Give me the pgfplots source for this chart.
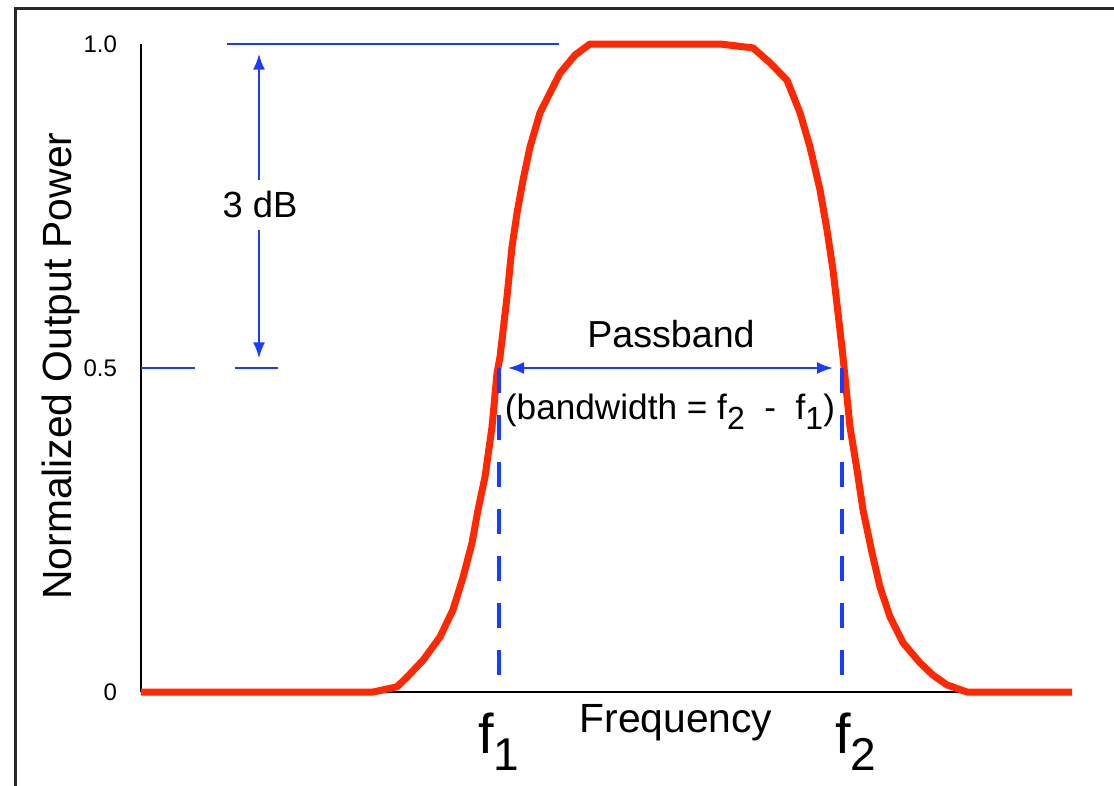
\documentclass[border=0pt]{standalone}
\usepackage{pgfplots}
\pgfplotsset{compat=1.18}
\usetikzlibrary{arrows.meta}
\usepackage{fontspec}
\setmainfont{Liberation Sans}
\definecolor{curvered}{RGB}{255,40,0}
\definecolor{guideblue}{RGB}{25,60,255}
\definecolor{framegray}{RGB}{40,40,40}
\newcommand{\lowsub}[3]{\raisebox{-#3}{\fontsize{#2}{#2}\selectfont #1}}
\begin{document}
\begin{tikzpicture}
\useasboundingbox (0,0) rectangle (278.5pt,196.25pt);
\draw[framegray, line width=0.75pt] (3.75pt,-10pt) rectangle (290pt,194.25pt);
\begin{axis}[
  at={(35.25pt,23.25pt)}, anchor=south west,
  scale only axis, width=219.25pt, height=162pt,
  xmin=141, xmax=1018, ymin=0, ymax=1,
  axis x line*=bottom, axis y line*=left,
  axis line style={line width=0.5pt, black},
  clip=false,
  major tick length=0pt,
  xtick={499,842},
  xticklabels={{f\lowsub{1}{11.5pt}{4.25pt}},{\hspace{7pt}f\lowsub{2}{11.5pt}{4.25pt}}},
  xticklabel style={anchor=base, yshift=-15.25pt, font=\fontsize{14}{14}\selectfont},
  ytick={0,0.5,1}, yticklabels={0,0.5,1.0},
  yticklabel style={font=\fontsize{6}{6}\selectfont, xshift=-2.5pt},
]
% filter response
\addplot[curvered, line width=1.75pt, line join=round] coordinates {
(141,0) (373,0) (397,0.008) (407,0.023) (423,0.049) (440,0.085) (453,0.127)
(463,0.177) (472,0.230) (478,0.281) (485,0.332) (492,0.409) (497,0.492)
(500,0.517) (507,0.610) (512,0.687) (517,0.739) (523,0.790) (530,0.841)
(540,0.894) (560,0.955) (575,0.983) (590,1.0) (720,1.0) (753,0.994)
(770,0.971) (787,0.944) (800,0.894) (810,0.841) (820,0.775) (827,0.713)
(833,0.651) (838,0.585) (843,0.517) (845,0.486) (850,0.409) (857,0.343)
(863,0.281) (872,0.215) (880,0.162) (890,0.116) (903,0.076) (920,0.045)
(933,0.026) (947,0.011) (967,0) (1072,0)
};
% f1, f2 guides
\addplot[guideblue, line width=1pt, dash pattern=on 6.25pt off 5.5pt] coordinates {(499,0.5) (499,0.02)};
\addplot[guideblue, line width=1pt, dash pattern=on 6.25pt off 5.5pt] coordinates {(842,0.5) (842,0.02)};
% 1.0 level
\addplot[guideblue, line width=0.5pt] coordinates {(227,1) (559,1)};
% 0.5 level
\addplot[guideblue, line width=0.5pt] coordinates {(141,0.5) (195,0.5)};
\addplot[guideblue, line width=0.5pt] coordinates {(235,0.5) (278,0.5)};
% 3 dB arrow
\draw[guideblue, line width=0.5pt, -{Latex[length=4pt,width=3pt]}] (axis cs:259,0.790) -- (axis cs:259,0.985);
\draw[guideblue, line width=0.5pt, -{Latex[length=4pt,width=3pt]}] (axis cs:259,0.713) -- (axis cs:259,0.515);
\node[anchor=base, inner sep=0pt, font=\fontsize{9.1}{9.1}\selectfont] at (axis cs:260,0.733) {3 dB};
% passband arrow
\draw[guideblue, line width=0.5pt, {Latex[length=4pt,width=3pt]}-{Latex[length=4pt,width=3pt]}] (axis cs:508,0.5) -- (axis cs:833,0.5);
\node[anchor=base, inner sep=0pt, font=\fontsize{9.4}{9.4}\selectfont] at (axis cs:671,0.532) {Passband};
\node[anchor=base, inner sep=0pt, font=\fontsize{8.8}{8.8}\selectfont] at (axis cs:670,0.420)
  {(bandwidth = f\lowsub{2}{8pt}{2.5pt}\ \ -\ \ f\lowsub{1}{8pt}{2.5pt})};
% axis labels
\node[anchor=base, inner sep=0pt, rotate=90, font=\fontsize{10.2}{10.2}\selectfont] at (axis cs:72,0.503) {Normalized Output Power};
\node[anchor=base, inner sep=0pt, font=\fontsize{10.2}{10.2}\selectfont] at (axis cs:676,-0.063) {Frequency};
\end{axis}
\end{tikzpicture}
\end{document}
